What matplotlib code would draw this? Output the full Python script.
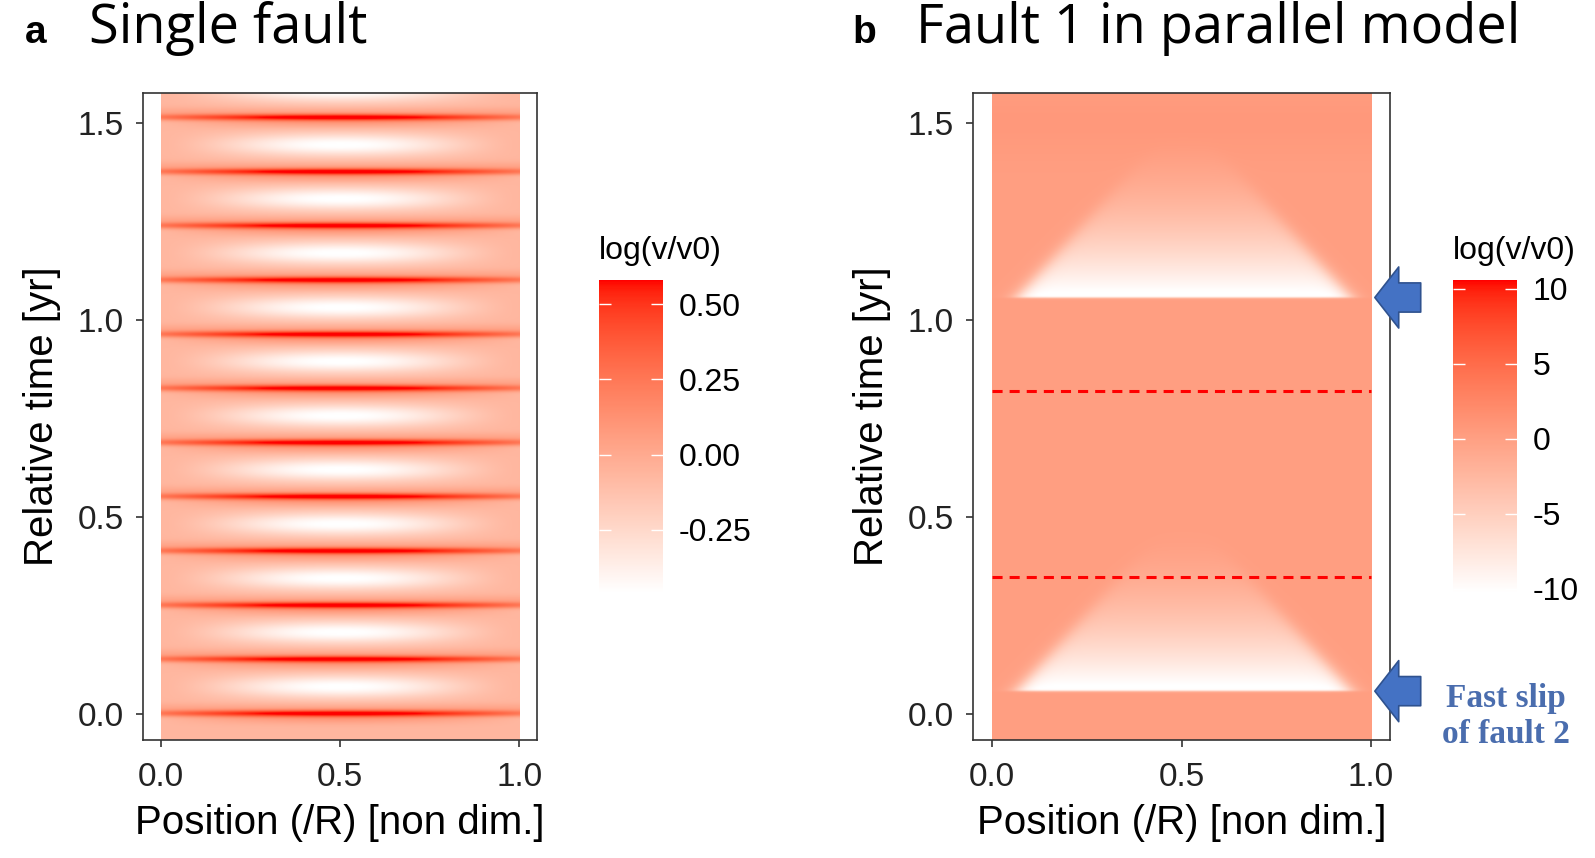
import numpy as np
import matplotlib
matplotlib.use("Agg")
import matplotlib.pyplot as plt
from matplotlib.colors import ListedColormap

plt.rcParams['font.family'] = ['Liberation Sans', 'DejaVu Sans']
plt.rcParams['axes.unicode_minus'] = False

# ---- data ----
# panel a: times of the repeated slip events of the single fault
events_a = [0.0, 0.138, 0.275, 0.413, 0.551, 0.688, 0.826, 0.963, 1.101, 1.239, 1.376, 1.514]
clim_a = [-0.46, 0.58]
cbar_ticks_a = [-0.25, 0.0, 0.25, 0.50]
cbar_labels_a = ['-0.25', '0.00', '0.25', '0.50']

# panel b: fast slip of fault 2 (arrows) and the dashed lines on fault 1
events_b = [0.057, 1.056]
dashed_b = [0.346, 0.818]
clim_b = [-10.3, 10.6]
cbar_ticks_b = [-10, -5, 0, 5, 10]
cbar_labels_b = ['-10', '-5', '0', '5', '10']

xticks = [0.0, 0.5, 1.0]
xticklabels = ['0.0', '0.5', '1.0']
yticks = [0.0, 0.5, 1.0, 1.5]
yticklabels = ['0.0', '0.5', '1.0', '1.5']
ylim = (-0.067, 1.575)


# white -> red gradient interpolated in CIELAB (like ggplot's scale_fill_gradient)
def srgb_to_lab(c):
    c = np.asarray(c, float)
    lin = np.where(c <= 0.04045, c / 12.92, ((c + 0.055) / 1.055) ** 2.4)
    M = np.array([[0.4124, 0.3576, 0.1805], [0.2126, 0.7152, 0.0722], [0.0193, 0.1192, 0.9505]])
    xyz = M @ lin / np.array([0.95047, 1.0, 1.08883])
    f = np.where(xyz > 0.008856, np.cbrt(xyz), 7.787 * xyz + 16 / 116)
    return np.array([116 * f[1] - 16, 500 * (f[0] - f[1]), 200 * (f[1] - f[2])])


def lab_to_srgb(lab):
    L, a, b = lab
    fy = (L + 16) / 116
    fx = fy + a / 500
    fz = fy - b / 200
    f = np.array([fx, fy, fz])
    xyz = np.where(f ** 3 > 0.008856, f ** 3, (f - 16 / 116) / 7.787) * np.array([0.95047, 1.0, 1.08883])[:, None]
    Minv = np.array([[3.2406, -1.5372, -0.4986], [-0.9689, 1.8758, 0.0415], [0.0557, -0.2040, 1.0570]])
    lin = Minv @ xyz
    c = np.where(lin <= 0.0031308, 12.92 * lin, 1.055 * np.clip(lin, 0, None) ** (1 / 2.4) - 0.055)
    return np.clip(c, 0, 1).T


lab0 = srgb_to_lab([1, 1, 1])
lab1 = srgb_to_lab([1, 0, 0])
s = np.linspace(0, 1, 256)
cmap = ListedColormap(lab_to_srgb(lab0[:, None] + (lab1 - lab0)[:, None] * s[None, :]))

# ---- fields ----
x = np.linspace(0, 1, 301)
t = np.linspace(ylim[0], ylim[1], 1400)
X, T = np.meshgrid(x, t)

# panel a: narrow red slip stripes, low-velocity lobe after each event
prof = np.sin(np.pi * X)
field_a = np.full_like(X, -0.07)
for te in events_a:
    dt = T - te
    field_a += (0.3 + 0.35 * prof) * np.exp(-(dt / 0.0085) ** 2)
    field_a += 0.15 * prof * np.exp(-((dt + 0.012) / 0.015) ** 2)
    field_a -= 0.40 * prof ** 1.6 * np.exp(-((dt - 0.068) / 0.029) ** 2)
    field_a += 0.08 * np.exp(-((dt - 0.014) / 0.012) ** 2)

# panel b: salmon background, triangular slow region after fault 2 slips
field_b = np.full_like(X, 0.1)
field_b += 0.6 * np.exp(-((T - 1.5) / 0.08) ** 2)
for te in events_b:
    dt = T - te
    hw = 0.44 - np.clip(dt, 0, None) / 1.07
    inside = 1 / (1 + np.exp(-(hw - np.abs(X - 0.505)) / 0.015))
    after = 1 / (1 + np.exp(-dt / 0.0015))
    depth = np.clip(1 - dt / 0.42, 0, 1) ** 1.8
    field_b += (-11.0 - 0.1) * depth * inside * after

W, H = 1595, 858
fig = plt.figure(figsize=(W / 100, H / 100), dpi=100)


def box(l, tp, r, b):
    return [l / W, 1 - b / H, (r - l) / W, (b - tp) / H]


ax_a = fig.add_axes(box(143, 93, 537, 740))
ax_b = fig.add_axes(box(973, 93, 1390, 740))
cax_a = fig.add_axes(box(599, 280, 663, 593))
cax_b = fig.add_axes(box(1453, 280, 1517, 593))

panels = [(ax_a, cax_a, field_a, clim_a, cbar_ticks_a, cbar_labels_a),
          (ax_b, cax_b, field_b, clim_b, cbar_ticks_b, cbar_labels_b)]
for ax, cax, fld, clim, cts, cls in panels:
    im = ax.imshow(fld, cmap=cmap, vmin=clim[0], vmax=clim[1], origin='lower',
                   extent=[0, 1, ylim[0], ylim[1]], aspect='auto', interpolation='bilinear')
    ax.set_xlim(-0.05, 1.05)
    ax.set_ylim(*ylim)
    ax.set_xticks(xticks)
    ax.set_xticklabels(xticklabels)
    ax.set_yticks(yticks)
    ax.set_yticklabels(yticklabels)
    for sp in ax.spines.values():
        sp.set_color('#333333')
        sp.set_linewidth(1.2)
    ax.tick_params(labelsize=24, colors='#333333', labelcolor='#222222', length=5, width=1.2)
    ax.tick_params(axis='x', pad=11)
    ax.tick_params(axis='y', pad=9)
    ax.set_xlabel('Position (/R) [non dim.]', fontsize=29, labelpad=8)
    ax.set_ylabel('Relative time [yr]', fontsize=29, labelpad=12)

    cb = fig.colorbar(im, cax=cax)
    cb.outline.set_visible(False)
    cb.set_ticks(cts)
    cb.set_ticklabels(cls)
    cax.tick_params(axis='y', direction='in', length=8.5, width=1, color='white',
                    left=True, right=True, labelsize=23, pad=11)
    cax.text(0, 1.045, 'log(v/v0)', transform=cax.transAxes, ha='left', va='bottom', fontsize=23)

# dashed lines on fault 1
ax_b.hlines(dashed_b, 0, 1, colors='#FF0000', linestyles=(0, (3.3, 2.3)), linewidth=2.2)

# arrows marking the fast slip of fault 2
for te in events_b:
    ax_b.annotate('', xy=(1.010, te), xytext=(1.131, te), xycoords='data', annotation_clip=False,
                  arrowprops=dict(arrowstyle='simple,head_length=0.86,head_width=2.2,tail_width=1.05',
                                  mutation_scale=20, fc='#4472C4', ec='#2F528F', lw=1.2,
                                  shrinkA=0, shrinkB=0))
ax_b.text(1.355, events_b[0] + 0.02, 'Fast slip\nof fault 2', ha='center', va='top', fontsize=24,
          family='Liberation Serif', fontweight='bold', color='#4A6DAE', linespacing=1.2,
          clip_on=False, transform=ax_b.transData)

# panel titles
fig.text(25 / W, 1 - 43 / H, 'a', fontsize=28, fontweight='bold', ha='left', va='baseline')
fig.text(89 / W, 1 - 43 / H, 'Single fault', fontsize=39, family='Open Sans', ha='left', va='baseline')
fig.text(852 / W, 1 - 43 / H, 'b', fontsize=28, fontweight='bold', ha='left', va='baseline')
fig.text(916 / W, 1 - 43 / H, 'Fault 1 in parallel model', fontsize=39, family='Open Sans',
         ha='left', va='baseline')

fig.savefig('out.png', dpi=100)
